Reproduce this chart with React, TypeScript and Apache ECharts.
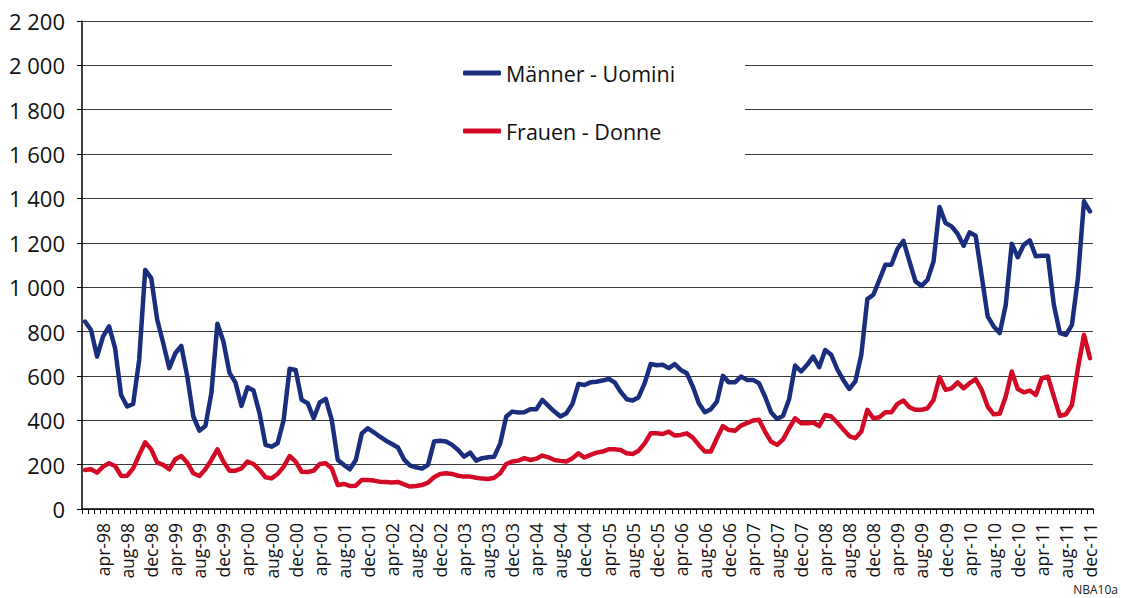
import React, { useEffect, useRef } from "react";
import * as echarts from "echarts";

const monthNames = ["jan", "feb", "mar", "apr", "may", "jun", "jul", "aug", "sep", "oct", "nov", "dec"];
const years = ["98", "99", "00", "01", "02", "03", "04", "05", "06", "07", "08", "09", "10", "11"];
const categories: string[] = years.flatMap((y) => monthNames.map((m) => `${m}-${y}`));

const seriesNames = ["Männer - Uomini", "Frauen - Donne"];

const men = [
  845, 807, 687, 778, 823, 725, 514, 462, 474, 672, 1078, 1041,
  853, 747, 635, 702, 735, 597, 417, 353, 374, 522, 835, 755,
  615, 570, 465, 549, 534, 432, 289, 281, 296, 400, 632, 627,
  492, 477, 409, 480, 496, 402, 221, 199, 179, 221, 341, 364,
  346, 326, 308, 293, 277, 224, 196, 188, 182, 199, 304, 308,
  304, 289, 266, 236, 254, 218, 229, 233, 236, 296, 417, 439,
  435, 436, 450, 450, 492, 465, 439, 417, 432, 474, 564, 559,
  571, 574, 579, 587, 571, 529, 495, 489, 504, 567, 654, 648,
  650, 635, 653, 627, 612, 552, 477, 436, 450, 484, 600, 571,
  571, 597, 582, 582, 567, 507, 436, 406, 420, 495, 647, 620,
  650, 687, 639, 717, 695, 630, 582, 541, 575, 695, 946, 966,
  1033, 1101, 1101, 1172, 1209, 1116, 1026, 1006, 1033, 1116, 1361, 1289,
  1274, 1241, 1187, 1247, 1232, 1051, 868, 823, 793, 920, 1196, 1135,
  1191, 1211, 1139, 1142, 1142, 920, 793, 785, 830, 1041, 1387, 1342,
];

const women = [
  176, 179, 164, 191, 206, 194, 149, 150, 183, 244, 301, 269,
  209, 199, 179, 224, 239, 209, 161, 149, 179, 221, 269, 214,
  173, 173, 183, 214, 203, 176, 143, 138, 158, 190, 239, 214,
  168, 167, 173, 203, 206, 183, 108, 113, 104, 105, 131, 131,
  128, 123, 122, 120, 122, 111, 101, 104, 108, 119, 143, 158,
  161, 158, 150, 146, 146, 141, 137, 135, 141, 161, 203, 214,
  218, 229, 221, 227, 241, 233, 221, 217, 214, 229, 251, 232,
  244, 254, 259, 269, 269, 266, 251, 248, 263, 296, 341, 341,
  338, 349, 331, 334, 341, 322, 289, 259, 259, 319, 374, 356,
  353, 376, 387, 399, 402, 349, 304, 289, 314, 364, 409, 387,
  387, 390, 374, 424, 417, 390, 359, 329, 319, 349, 447, 409,
  414, 436, 436, 474, 489, 459, 447, 447, 454, 492, 594, 537,
  544, 571, 544, 567, 585, 537, 462, 427, 429, 507, 620, 541,
  526, 534, 514, 590, 597, 507, 420, 427, 469, 635, 785, 680,
];

const yMin = 0;
const yMax = 2200;
const yStep = 200;

const BLUE = "#1b2d7d";
const RED = "#d30a26";
const FONT = "Open Sans";

export default function App() {
  const ref = useRef<HTMLDivElement>(null);
  useEffect(() => {
    if (!ref.current) return;
    const chart = echarts.init(ref.current, undefined, { renderer: "svg" });
    const legendText = { fontFamily: FONT, fontSize: 21.5, color: "#111", lineHeight: 26 };
    chart.setOption({
      animation: false,
      backgroundColor: "#fff",
      grid: { left: 82, right: 28, top: 21, bottom: 89, containLabel: false },
      legend: [
        {
          data: [seriesNames[0]],
          left: 463,
          top: 60,
          padding: 0,
          icon: "roundRect",
          itemWidth: 38,
          itemHeight: 5,
          textStyle: legendText,
          z: 10,
          selectedMode: false,
        },
        {
          data: [seriesNames[1]],
          left: 463,
          top: 118,
          padding: 0,
          icon: "roundRect",
          itemWidth: 38,
          itemHeight: 5,
          textStyle: legendText,
          z: 10,
          selectedMode: false,
        },
      ],
      graphic: [
        {
          type: "rect",
          left: 392,
          top: 35,
          shape: { width: 353, height: 140 },
          style: { fill: "#fff" },
          z: 3,
        },
        {
          type: "text",
          right: 3,
          top: 583,
          style: { text: "NBA10a", font: `12px ${FONT}`, fill: "#222" },
          z: 10,
        },
      ],
      xAxis: {
        type: "category",
        data: categories,
        boundaryGap: true,
        axisLine: { lineStyle: { color: "#000", width: 1.5 } },
        axisTick: { show: true, interval: 0, length: 5, lineStyle: { color: "#000", width: 1 } },
        axisLabel: {
          interval: (i: number) => i % 4 === 3,
          rotate: 90,
          margin: 14,
          fontFamily: FONT,
          fontSize: 17.5,
          color: "#111",
        },
        splitLine: { show: false },
      },
      yAxis: {
        type: "value",
        min: yMin,
        max: yMax,
        interval: yStep,
        axisLine: { show: true, lineStyle: { color: "#000", width: 1.5 } },
        axisTick: { show: true, length: 5, lineStyle: { color: "#000" } },
        axisLabel: {
          margin: 17,
          fontFamily: FONT,
          fontSize: 22,
          color: "#111",
          formatter: (v: number) => String(v).replace(/\B(?=(\d{3})+(?!\d))/g, " "),
        },
        splitLine: { show: true, lineStyle: { color: "#3a3a3a", width: 1 } },
      },
      series: [
        {
          name: seriesNames[0],
          type: "line",
          data: men,
          showSymbol: false,
          symbol: "none",
          lineStyle: { color: BLUE, width: 4.5, join: "round", cap: "round" },
          itemStyle: { color: BLUE },
          z: 2,
        },
        {
          name: seriesNames[1],
          type: "line",
          data: women,
          showSymbol: false,
          symbol: "none",
          lineStyle: { color: RED, width: 4.5, join: "round", cap: "round" },
          itemStyle: { color: RED },
          z: 2,
        },
      ],
    });
    return () => chart.dispose();
  }, []);
  return (
    <div
      ref={ref}
      style={{ position: "fixed", left: 0, top: 0, width: 1121, height: 598 }}
    />
  );
}
